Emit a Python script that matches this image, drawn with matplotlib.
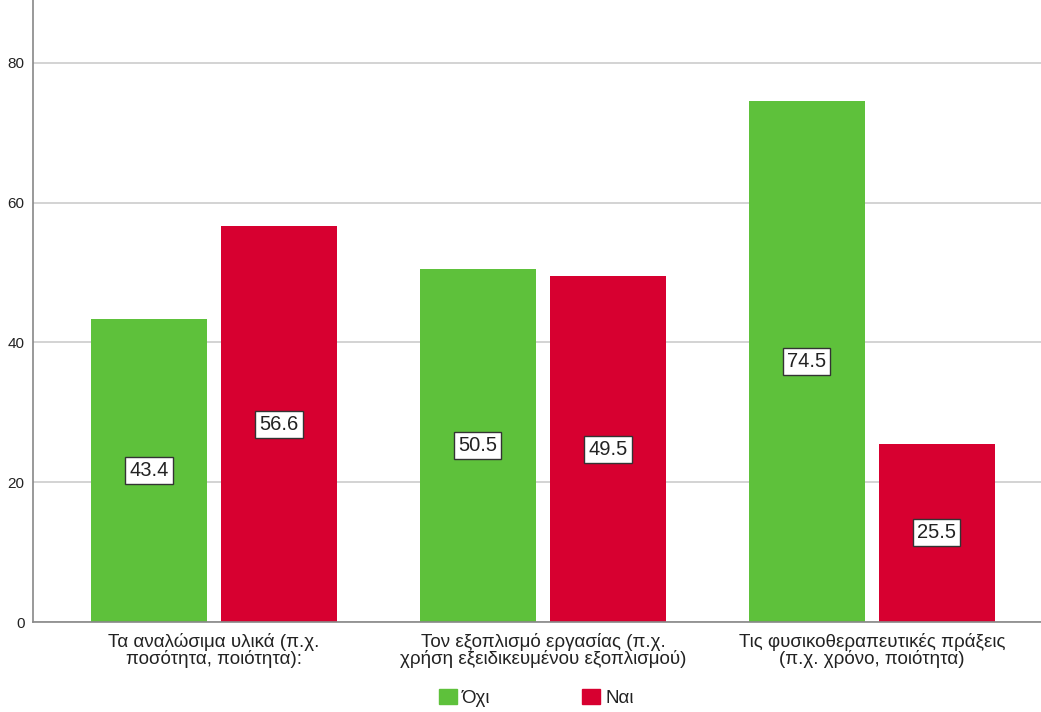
import matplotlib
matplotlib.use("Agg")
import matplotlib.pyplot as plt
from matplotlib.patches import Patch
import numpy as np

categories = ["Τα αναλώσιμα υλικά (π.χ.\nποσότητα, ποιότητα):",
              "Τον εξοπλισμό εργασίας (π.χ.\nχρήση εξειδικευμένου εξοπλισμού)",
              "Τις φυσικοθεραπευτικές πράξεις\n(π.χ. χρόνο, ποιότητα)"]
series_names = ["Όχι", "Ναι"]
oxi = [43.4, 50.5, 74.5]
nai = [56.6, 49.5, 25.5]
yticks = [0, 20, 40, 60, 80]

plt.rcParams['font.family'] = ['Liberation Sans', 'DejaVu Sans']

W, H = 1041, 712
fig = plt.figure(figsize=(W/100, H/100), dpi=100)
ax = fig.add_axes([33/W, 90/H, 1 - 33/W, 1 - 90/H])

green = "#5ec13b"
red = "#d70030"
x = np.arange(len(categories))
bw = 116/329
off = 65/329

for vals, sign, col in [(oxi, -1, green), (nai, 1, red)]:
    bars = ax.bar(x + sign*off, vals, width=bw, color=col, zorder=3)
    for b, v in zip(bars, vals):
        ax.text(b.get_x() + b.get_width()/2, v/2, f"{v:.1f}", ha="center", va="center",
                fontsize=14.5, color="#222222", zorder=4,
                bbox=dict(boxstyle="square,pad=0.2", fc="white", ec="#333333", lw=1))

ax.set_xlim(-0.550, 2.514)
ax.set_ylim(0, 89.0)
ax.set_yticks(yticks)
ax.set_yticklabels([str(t) for t in yticks], fontsize=11, color="#222222")
ax.set_xticks(x)
ax.set_xticklabels(categories, fontsize=13.5, color="#222222", linespacing=0.95)
ax.tick_params(axis="both", length=0, pad=6)
ax.tick_params(axis="x", pad=8)
ax.grid(axis="y", color="#cccccc", lw=1.2, zorder=0)
for s in ["top", "right"]:
    ax.spines[s].set_visible(False)
for s in ["left", "bottom"]:
    ax.spines[s].set_color("#888888")
    ax.spines[s].set_linewidth(1.2)
    ax.spines[s].set_zorder(5)

handles = [Patch(color=green, label=series_names[0]), Patch(color=red, label=series_names[1])]
fig.legend(handles=handles, loc="center left", bbox_to_anchor=(439/W, 1 - 698/H), ncol=2,
           frameon=False, fontsize=13.5, handlelength=0.96, handleheight=0.9,
           handletextpad=0.27, columnspacing=4.9, labelcolor="#222222",
           borderpad=0, borderaxespad=0)

fig.savefig("out.png", dpi=100)
